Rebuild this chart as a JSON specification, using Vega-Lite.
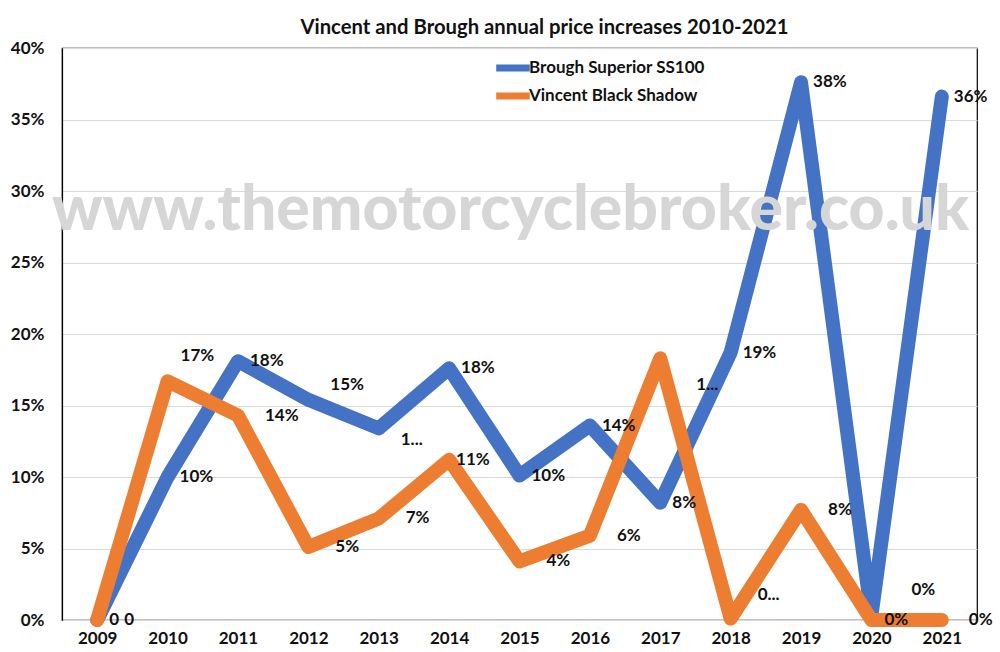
{
  "$schema": "https://vega.github.io/schema/vega-lite/v6.json",
  "width": 915,
  "height": 572,
  "autosize": {"type": "none"},
  "padding": {"left": 62, "top": 48, "right": 23, "bottom": 32},
  "background": "white",
  "title": {
    "text": "Vincent and Brough annual price increases 2010-2021",
    "font": "Lato",
    "fontSize": 20.3,
    "fontWeight": "bold",
    "color": "#111111",
    "anchor": "middle",
    "dx": 25,
    "offset": 1
  },
  "config": {
    "font": "Lato",
    "view": {"stroke": "#000000", "strokeWidth": 1.2},
    "axis": {"labelFont": "Lato", "labelFontWeight": "bold", "labelColor": "#111111"},
    "text": {"font": "Lato", "fontSize": 17, "fontWeight": "bold", "color": "#111111", "align": "left", "baseline": "middle"}
  },
  "datasets": {
    "watermark": [{"year": "2015", "value": 0.273, "wm": "www.themotorcyclebroker.co.uk"}]
  },
  "data": {
    "values": [
      {"year": "2009", "series": "Brough Superior SS100", "value": 0.0, "label": "0"},
      {"year": "2010", "series": "Brough Superior SS100", "value": 0.10, "label": "10%"},
      {"year": "2011", "series": "Brough Superior SS100", "value": 0.181, "label": "18%"},
      {"year": "2012", "series": "Brough Superior SS100", "value": 0.154, "label": "15%"},
      {"year": "2013", "series": "Brough Superior SS100", "value": 0.134, "label": "1..."},
      {"year": "2014", "series": "Brough Superior SS100", "value": 0.176, "label": "18%"},
      {"year": "2015", "series": "Brough Superior SS100", "value": 0.101, "label": "10%"},
      {"year": "2016", "series": "Brough Superior SS100", "value": 0.136, "label": "14%"},
      {"year": "2017", "series": "Brough Superior SS100", "value": 0.082, "label": "8%"},
      {"year": "2018", "series": "Brough Superior SS100", "value": 0.187, "label": "19%"},
      {"year": "2019", "series": "Brough Superior SS100", "value": 0.376, "label": "38%"},
      {"year": "2020", "series": "Brough Superior SS100", "value": 0.003, "label": "0%"},
      {"year": "2021", "series": "Brough Superior SS100", "value": 0.366, "label": "36%"},
      {"year": "2009", "series": "Vincent Black Shadow", "value": 0.0, "label": "0"},
      {"year": "2010", "series": "Vincent Black Shadow", "value": 0.167, "label": "17%"},
      {"year": "2011", "series": "Vincent Black Shadow", "value": 0.143, "label": "14%"},
      {"year": "2012", "series": "Vincent Black Shadow", "value": 0.051, "label": "5%"},
      {"year": "2013", "series": "Vincent Black Shadow", "value": 0.071, "label": "7%"},
      {"year": "2014", "series": "Vincent Black Shadow", "value": 0.112, "label": "11%"},
      {"year": "2015", "series": "Vincent Black Shadow", "value": 0.041, "label": "4%"},
      {"year": "2016", "series": "Vincent Black Shadow", "value": 0.059, "label": "6%"},
      {"year": "2017", "series": "Vincent Black Shadow", "value": 0.183, "label": "1..."},
      {"year": "2018", "series": "Vincent Black Shadow", "value": 0.001, "label": "0..."},
      {"year": "2019", "series": "Vincent Black Shadow", "value": 0.077, "label": "8%"},
      {"year": "2020", "series": "Vincent Black Shadow", "value": 0.0, "label": "0%"},
      {"year": "2021", "series": "Vincent Black Shadow", "value": 0.0, "label": "0%"}
    ]
  },
  "encoding": {
    "x": {
      "field": "year",
      "type": "ordinal",
      "scale": {"type": "point", "padding": 0.5},
      "axis": {
        "title": null,
        "labelAngle": 0,
        "domain": false,
        "ticks": false,
        "labelFontSize": 17,
        "labelPadding": 10
      }
    },
    "y": {
      "field": "value",
      "type": "quantitative",
      "scale": {"domain": [0, 0.4], "nice": false, "zero": true},
      "axis": {
        "title": null,
        "format": ".0%",
        "values": [0, 0.05, 0.1, 0.15, 0.2, 0.25, 0.3, 0.35, 0.4],
        "domain": true,
        "domainColor": "#000000",
        "domainWidth": 1.2,
        "ticks": false,
        "grid": true,
        "gridColor": "#d9d9d9",
        "gridWidth": 1.2,
        "labelFontSize": 17,
        "labelPadding": 18
      }
    }
  },
  "layer": [
    {
      "mark": {"type": "line", "strokeWidth": 14, "strokeJoin": "round", "strokeCap": "round"},
      "encoding": {
        "color": {
          "field": "series",
          "type": "nominal",
          "scale": {"domain": ["Brough Superior SS100", "Vincent Black Shadow"], "range": ["#4472C4", "#ED7D31"]},
          "legend": {
            "title": null,
            "orient": "none",
            "legendX": 441,
            "legendY": 10,
            "symbolType": "M-2.58,0L2.58,0",
            "symbolSize": 169,
            "symbolStrokeWidth": 7,
            "labelFont": "Lato",
            "labelFontSize": 17,
            "labelFontWeight": "bold",
            "labelColor": "#111111",
            "labelLimit": 400,
            "labelOffset": 6,
            "rowPadding": 0
          }
        }
      }
    },
    {
      "transform": [{"filter": "datum.series === 'Brough Superior SS100' && indexof(['2012','2013','2020'], datum.year) < 0"}],
      "mark": {"type": "text", "dx": 12},
      "encoding": {"text": {"field": "label"}}
    },
    {
      "transform": [{"filter": "datum.series === 'Brough Superior SS100' && datum.year === '2012'"}],
      "mark": {"type": "text", "dx": 22, "dy": -15},
      "encoding": {"text": {"field": "label"}}
    },
    {
      "transform": [{"filter": "datum.series === 'Brough Superior SS100' && datum.year === '2013'"}],
      "mark": {"type": "text", "dx": 22, "dy": 12},
      "encoding": {"text": {"field": "label"}}
    },
    {
      "transform": [{"filter": "datum.series === 'Brough Superior SS100' && datum.year === '2020'"}],
      "mark": {"type": "text", "dx": 40, "dy": -26},
      "encoding": {"text": {"field": "label"}}
    },
    {
      "transform": [{"filter": "datum.series === 'Vincent Black Shadow' && indexof(['2010','2014','2017','2018','2020'], datum.year) < 0"}],
      "mark": {"type": "text", "dx": 27},
      "encoding": {"text": {"field": "label"}}
    },
    {
      "transform": [{"filter": "datum.series === 'Vincent Black Shadow' && datum.year === '2010'"}],
      "mark": {"type": "text", "dx": 13, "dy": -25},
      "encoding": {"text": {"field": "label"}}
    },
    {
      "transform": [{"filter": "datum.series === 'Vincent Black Shadow' && datum.year === '2014'"}],
      "mark": {"type": "text", "dx": 7},
      "encoding": {"text": {"field": "label"}}
    },
    {
      "transform": [{"filter": "datum.series === 'Vincent Black Shadow' && datum.year === '2017'"}],
      "mark": {"type": "text", "dx": 36, "dy": 27},
      "encoding": {"text": {"field": "label"}}
    },
    {
      "transform": [{"filter": "datum.series === 'Vincent Black Shadow' && datum.year === '2018'"}],
      "mark": {"type": "text", "dx": 27, "dy": -24},
      "encoding": {"text": {"field": "label"}}
    },
    {
      "transform": [{"filter": "datum.series === 'Vincent Black Shadow' && datum.year === '2020'"}],
      "mark": {"type": "text", "dx": 13},
      "encoding": {"text": {"field": "label"}}
    },
    {
      "data": {"name": "watermark"},
      "mark": {"type": "text", "align": "center", "baseline": "alphabetic", "dx": -9, "fontSize": 62.5, "fontWeight": 900, "color": "#d6d6d6"},
      "encoding": {
        "text": {"field": "wm"}
      }
    }
  ]
}
